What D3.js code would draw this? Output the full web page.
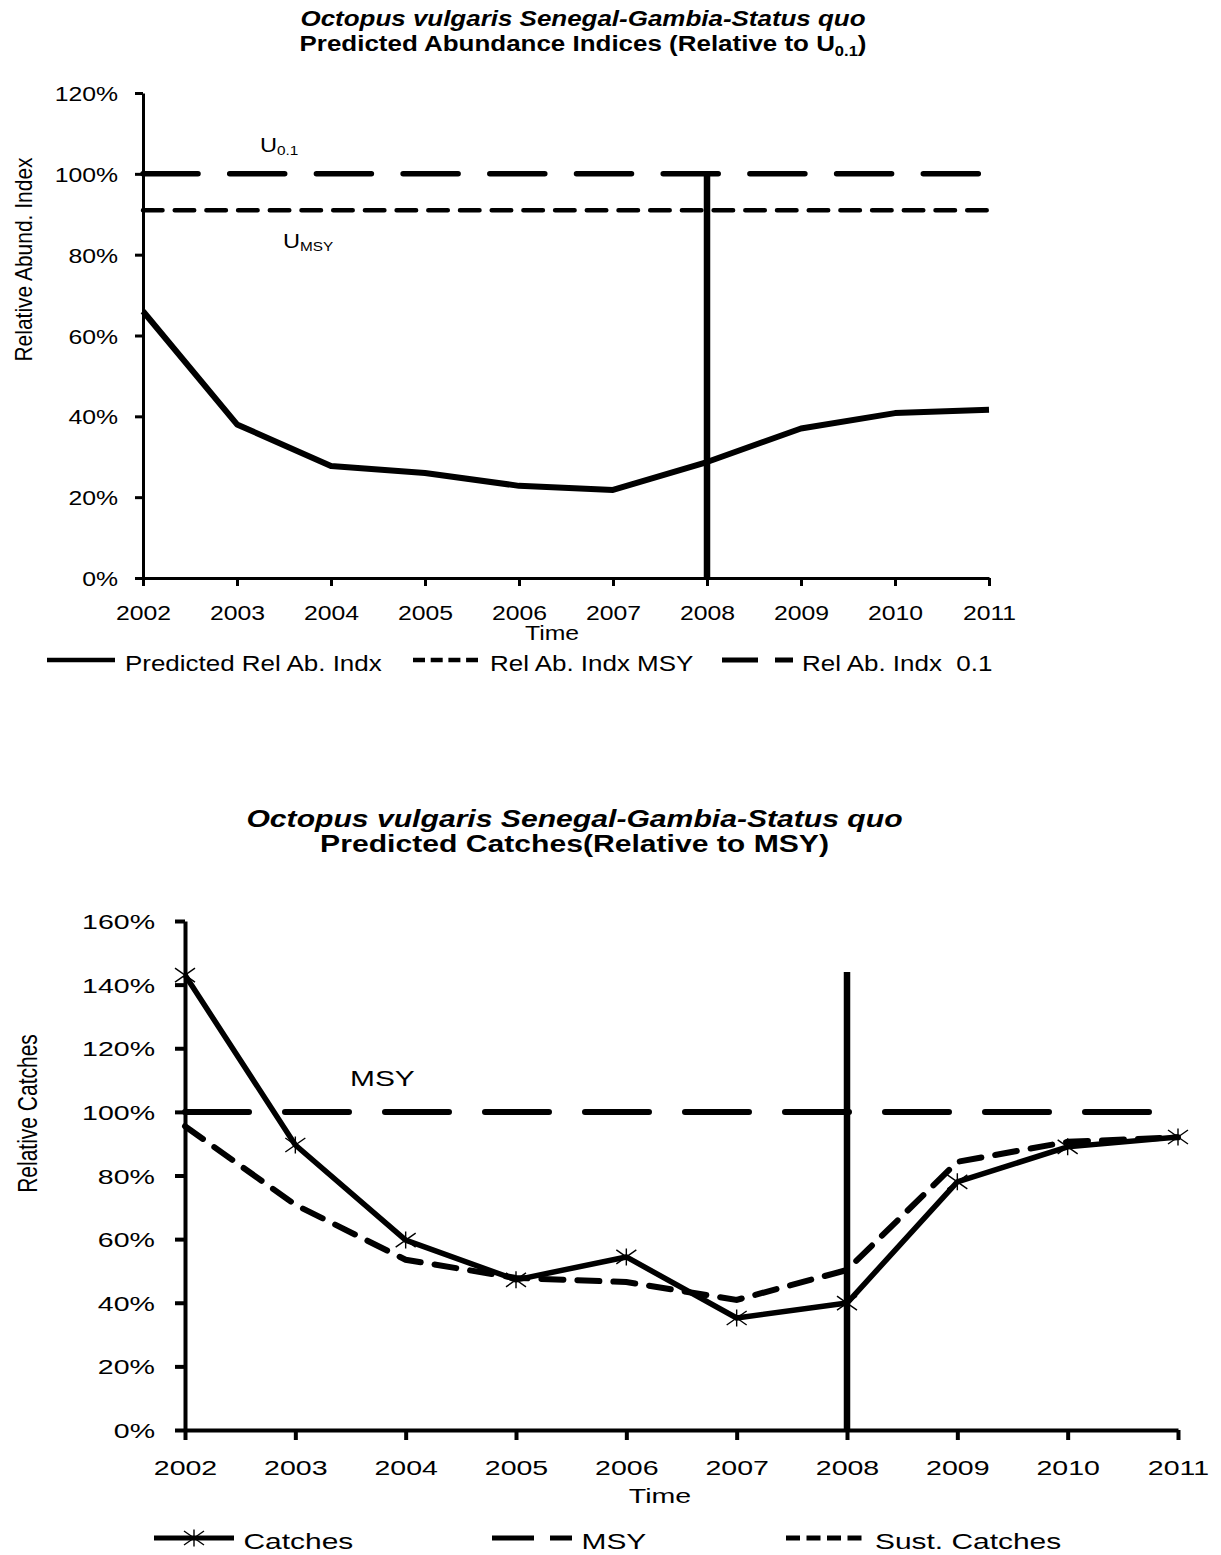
<!DOCTYPE html>
<html>
<head>
<meta charset="utf-8">
<script src="https://cdn.jsdelivr.net/npm/d3@7"></script>
<style>
  html, body { margin: 0; padding: 0; background: #fff; }
  svg { display: block; }
  text { font-family: 'Liberation Sans', Arial, Helvetica, sans-serif; fill: #000; white-space: pre; }
</style>
</head>
<body>
<svg id="chart" width="1221" height="1555"></svg>
<script>
// ---------------- DATA ----------------
const years = [2002, 2003, 2004, 2005, 2006, 2007, 2008, 2009, 2010, 2011];

// Chart 1: Predicted Abundance Indices (relative to U0.1)
const predRelAbIndx = [0.66, 0.38, 0.277, 0.26, 0.228, 0.218, 0.287, 0.37, 0.408, 0.416];
const relAbIndx01 = 1.00;
const relAbIndxMSY = 0.91;
const yTicks1 = [0, 0.2, 0.4, 0.6, 0.8, 1.0, 1.2];

// Chart 2: Predicted Catches (relative to MSY)
const catches = [1.43, 0.896, 0.597, 0.472, 0.544, 0.352, 0.399, 0.78, 0.89, 0.921];
const sustCatches = [0.955, 0.708, 0.535, 0.478, 0.465, 0.409, 0.503, 0.843, 0.906, 0.92];
const msyLevel = 1.00;
const yTicks2 = [0, 0.2, 0.4, 0.6, 0.8, 1.0, 1.2, 1.4, 1.6];

const refYear = 2008;
const refTop1 = 1.00;
const refTop2 = 1.44;

const legend1 = ["Predicted Rel Ab. Indx", "Rel Ab. Indx MSY", "Rel Ab. Indx  0.1"];
const legend2 = ["Catches", "MSY", "Sust. Catches"];

// ---------------- HELPERS ----------------
const svg = d3.select("#chart");
const pct = d3.format(".0%");

function txt(g, x, y, str, o) {
  const t = g.append("text")
    .attr("transform", `translate(${x},${y}) scale(${o.sx},1)` + (o.rot ? ` rotate(${o.rot})` : ""))
    .attr("text-anchor", o.anchor || "start")
    .style("font-size", o.size + "px")
    .style("font-weight", o.weight || "normal")
    .style("font-style", o.style || "normal");
  if (str !== null) t.text(str);
  return t;
}

function drawAxes(g, x, y, yTicks, o) {
  const yAx = g.append("g")
    .attr("transform", `translate(${o.x0},0)`)
    .call(d3.axisLeft(y).tickValues(yTicks).tickFormat(pct).tickSize(o.tick).tickSizeOuter(0));
  yAx.select(".domain").attr("stroke", "#000").attr("stroke-width", o.axisW);
  yAx.selectAll(".tick line").attr("stroke", "#000").attr("stroke-width", o.axisW);
  yAx.selectAll(".tick text")
    .attr("x", -o.yPad / o.sx).attr("dy", "0.36em")
    .attr("transform", `scale(${o.sx},1)`)
    .style("font-size", o.size + "px").attr("font-family", null);

  const xAx = g.append("g")
    .attr("transform", `translate(0,${o.y0})`)
    .call(d3.axisBottom(x).tickValues(years).tickFormat(d3.format("d")).tickSize(o.tick).tickSizeOuter(0));
  xAx.select(".domain").attr("stroke", "#000").attr("stroke-width", o.axisW);
  xAx.selectAll(".tick line").attr("stroke", "#000").attr("stroke-width", o.axisW);
  xAx.selectAll(".tick text")
    .attr("y", o.xLabBase).attr("dy", null)
    .attr("transform", `scale(${o.sx},1)`)
    .style("font-size", o.size + "px").attr("font-family", null);
  svg.selectAll(".tick text").attr("font-size", null);
}

function hLine(g, x, y, v, dash, w) {
  g.append("line")
    .attr("x1", x(years[0])).attr("x2", x(years[years.length - 1]))
    .attr("y1", y(v)).attr("y2", y(v))
    .attr("stroke", "#000").attr("stroke-width", w)
    .attr("stroke-dasharray", dash).attr("stroke-linecap", "round");
}

// ---------------- CHART 1 ----------------
(function () {
  const sx = 1.18;
  const g = svg.append("g");
  const x = d3.scaleLinear().domain([2002, 2011]).range([143, 989]);
  const y = d3.scaleLinear().domain([0, 1.2]).range([578, 93]);

  // titles
  txt(g, 583, 26, "Octopus vulgaris Senegal-Gambia-Status quo", {sx, size: 22, weight: "bold", style: "italic", anchor: "middle"});
  const t2 = txt(g, 583, 50.5, null, {sx, size: 22, weight: "bold", anchor: "middle"});
  t2.append("tspan").text("Predicted Abundance Indices (Relative to U");
  t2.append("tspan").attr("dy", 5).style("font-size", "14px").text("0.1");
  t2.append("tspan").attr("dy", -5).text(")");

  // reference lines
  hLine(g, x, y, relAbIndx01, "55,31.7", 5.5);
  hLine(g, x, y, relAbIndxMSY, "19.5,12.2", 4.5);

  drawAxes(g, x, y, yTicks1, {x0: 143, y0: 578, tick: 8, axisW: 3, yPad: 25, sx, size: 21, xLabBase: 42});

  // vertical reference year line
  g.append("line")
    .attr("x1", x(refYear)).attr("x2", x(refYear))
    .attr("y1", y(0)).attr("y2", y(refTop1))
    .attr("stroke", "#000").attr("stroke-width", 6.5);

  // predicted line
  g.append("path")
    .datum(predRelAbIndx)
    .attr("fill", "none").attr("stroke", "#000").attr("stroke-width", 6)
    .attr("stroke-linejoin", "round")
    .attr("d", d3.line().x((d, i) => x(years[i])).y(d => y(d)));

  // in-plot labels
  const u1 = txt(g, 260, 152, null, {sx, size: 20});
  u1.append("tspan").text("U");
  u1.append("tspan").attr("dy", 3).style("font-size", "13px").text("0.1");
  const u2 = txt(g, 283, 248, null, {sx, size: 20});
  u2.append("tspan").text("U");
  u2.append("tspan").attr("dy", 3).style("font-size", "13px").text("MSY");

  // axis titles
  txt(g, 32, 259.5, "Relative Abund. Index", {sx, size: 21, anchor: "middle", rot: -90});
  txt(g, 552, 640, "Time", {sx, size: 21, anchor: "middle"});

  // legend
  const ly = 660, lb = 671;
  g.append("line").attr("x1", 47).attr("x2", 115).attr("y1", ly).attr("y2", ly)
    .attr("stroke", "#000").attr("stroke-width", 4.5);
  txt(g, 125, lb, legend1[0], {sx: 1.18, size: 22});
  g.append("line").attr("x1", 413).attr("x2", 478).attr("y1", ly).attr("y2", ly)
    .attr("stroke", "#000").attr("stroke-width", 4.5).attr("stroke-dasharray", "12,5.7");
  txt(g, 490, lb, legend1[1], {sx: 1.18, size: 22});
  g.append("line").attr("x1", 722).attr("x2", 793).attr("y1", ly).attr("y2", ly)
    .attr("stroke", "#000").attr("stroke-width", 5).attr("stroke-dasharray", "36,17,18,100");
  txt(g, 802, lb, legend1[2], {sx: 1.18, size: 22});
})();

// ---------------- CHART 2 ----------------
(function () {
  const sx = 1.36;
  const g = svg.append("g");
  const x = d3.scaleLinear().domain([2002, 2011]).range([185, 1178]);
  const y = d3.scaleLinear().domain([0, 1.6]).range([1430, 921]);

  txt(g, 574.5, 827, "Octopus vulgaris Senegal-Gambia-Status quo", {sx: 1.31, size: 23, weight: "bold", style: "italic", anchor: "middle"});
  txt(g, 574.5, 852, "Predicted Catches(Relative to MSY)", {sx: 1.31, size: 23, weight: "bold", anchor: "middle"});

  hLine(g, x, y, msyLevel, "64,36", 6);

  drawAxes(g, x, y, yTicks2, {x0: 185, y0: 1430, tick: 10, axisW: 4, yPad: 30, sx, size: 21, xLabBase: 45});

  g.append("line")
    .attr("x1", x(refYear)).attr("x2", x(refYear))
    .attr("y1", y(0)).attr("y2", y(refTop2))
    .attr("stroke", "#000").attr("stroke-width", 6.5);

  const line = d3.line().x((d, i) => x(years[i])).y(d => y(d));
  g.append("path").datum(sustCatches)
    .attr("fill", "none").attr("stroke", "#000").attr("stroke-width", 6)
    .attr("stroke-dasharray", "22,14").attr("stroke-linecap", "round")
    .attr("d", line);
  g.append("path").datum(catches)
    .attr("fill", "none").attr("stroke", "#000").attr("stroke-width", 5.5)
    .attr("stroke-linejoin", "round")
    .attr("d", line);

  const star = "M-10,-7L10,7M-10,7L10,-7M0,-8.5L0,8.5";
  g.selectAll(".star").data(catches).enter().append("path")
    .attr("class", "star")
    .attr("transform", (d, i) => `translate(${x(years[i])},${y(d)})`)
    .attr("d", star).attr("fill", "none").attr("stroke", "#000").attr("stroke-width", 1.4);

  txt(g, 350, 1086, "MSY", {sx, size: 22});

  txt(g, 37, 1113.5, "Relative Catches", {sx, size: 21, anchor: "middle", rot: -90});
  txt(g, 660, 1503, "Time", {sx, size: 21, anchor: "middle"});

  const ly = 1538, lb = 1549;
  g.append("line").attr("x1", 154).attr("x2", 234).attr("y1", ly).attr("y2", ly)
    .attr("stroke", "#000").attr("stroke-width", 5);
  g.append("path").attr("transform", `translate(194,${ly})`).attr("d", star)
    .attr("fill", "none").attr("stroke", "#000").attr("stroke-width", 1.4);
  txt(g, 243.5, lb, legend2[0], {sx, size: 22});
  g.append("line").attr("x1", 492).attr("x2", 572).attr("y1", ly).attr("y2", ly)
    .attr("stroke", "#000").attr("stroke-width", 5).attr("stroke-dasharray", "42,16,22,100");
  txt(g, 581.5, lb, legend2[1], {sx, size: 22});
  g.append("line").attr("x1", 786).attr("x2", 862).attr("y1", ly).attr("y2", ly)
    .attr("stroke", "#000").attr("stroke-width", 5).attr("stroke-dasharray", "14,6.5");
  txt(g, 875, lb, legend2[2], {sx, size: 22});
})();
</script>
</body>
</html>
